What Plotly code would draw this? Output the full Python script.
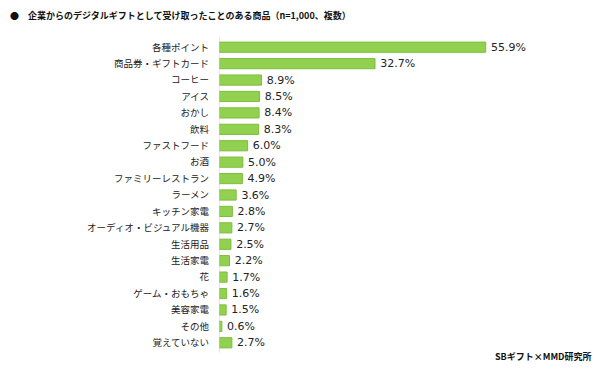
import plotly.graph_objects as go

categories = ["各種ポイント", "商品券・ギフトカード", "コーヒー", "アイス", "おかし", "飲料",
              "ファストフード", "お酒", "ファミリーレストラン", "ラーメン", "キッチン家電",
              "オーディオ・ビジュアル機器", "生活用品", "生活家電", "花", "ゲーム・おもちゃ",
              "美容家電", "その他", "覚えていない"]
values = [55.9, 32.7, 8.9, 8.5, 8.4, 8.3, 6.0, 5.0, 4.9, 3.6, 2.8, 2.7, 2.5, 2.2, 1.7, 1.6, 1.5, 0.6, 2.7]
title_text = "●　企業からのデジタルギフトとして受け取ったことのある商品（n=1,000、複数）"
source_text = "SBギフト×MMD研究所"

font_jp = "Noto Sans CJK JP"

# page has an 8px body margin; figure is sized/offset accordingly
W, H = 592, 361
L, R, T, B = 211, 47, 31, 18
PW, PH = W - L - R, H - T - B

fig = go.Figure(go.Bar(
    x=values, y=categories, orientation="h",
    marker=dict(color="#92D050", line=dict(color="#7CBF3A", width=1)),
    width=0.62,
    text=[f"\u2009{v:.1f}%" for v in values], textposition="outside",
    constraintext="none",
    textfont=dict(family="DejaVu Sans", size=11, color="#222222"),
    cliponaxis=False,
))

fig.update_layout(
    width=W, height=H,
    margin=dict(l=L, r=R, t=T, b=B, autoexpand=False),
    paper_bgcolor="white", plot_bgcolor="white",
    showlegend=False,
    xaxis=dict(range=[0, 70], visible=False),
    yaxis=dict(autorange="reversed", showgrid=False, zeroline=False,
               showline=False, ticks="", ticklabelstandoff=9, automargin=False,
               tickfont=dict(family=font_jp, size=9.5, color="#222222")),
    shapes=[dict(type="line", xref="x", yref="paper", x0=0, x1=0, y0=-0.005, y1=1.005,
                 line=dict(color="#D0CCD0", width=1))],
    annotations=[
        dict(text=title_text, xref="paper", yref="paper", x=(0 - L) / PW, y=1 + (T - 7) / PH,
             xanchor="left", yanchor="middle", showarrow=False,
             font=dict(family=font_jp, size=9, color="#111111", weight="bold")),
        dict(text=source_text, xref="paper", yref="paper", x=(586 - L) / PW, y=-(348 - (H - B)) / PH,
             xanchor="right", yanchor="middle", showarrow=False,
             font=dict(family=font_jp, size=9, color="#111111", weight="bold")),
    ],
)

fig.write_html("out.html")
